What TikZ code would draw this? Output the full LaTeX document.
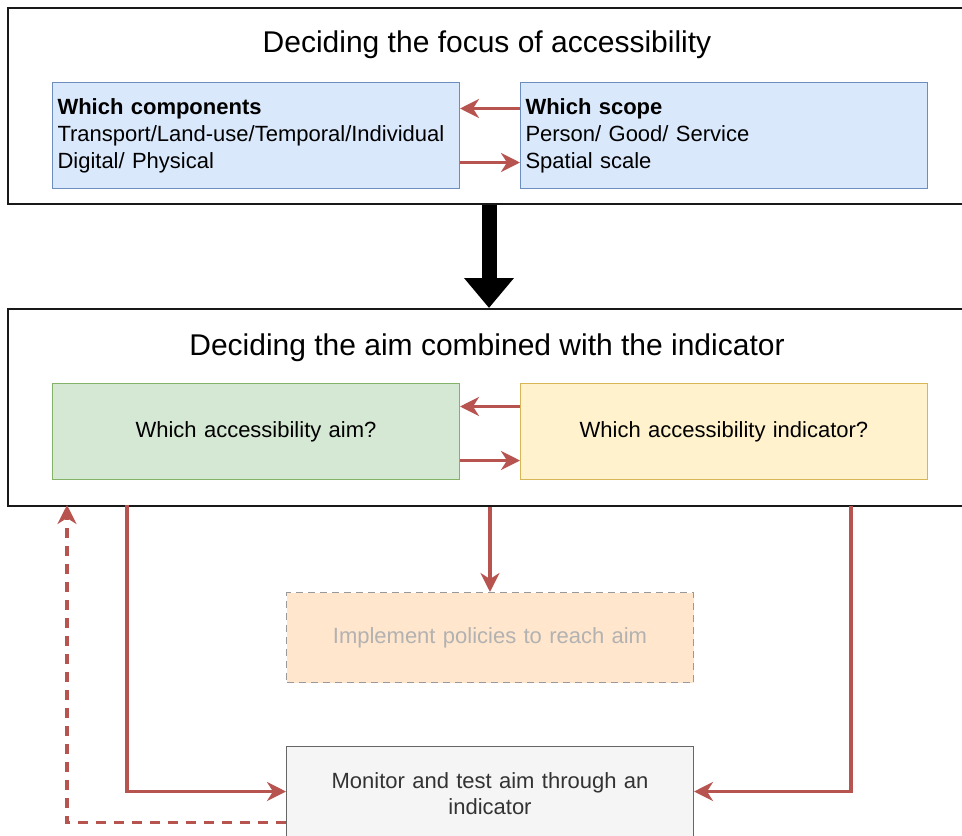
\documentclass[tikz,border=0pt]{standalone}
\usepackage{fontspec}
\setmainfont{Liberation Sans}
\usepackage{xcolor}
\usetikzlibrary{positioning,arrows.meta}

\definecolor{arrowred}{HTML}{B85450}
\definecolor{bluefill}{HTML}{DAE8FC}
\definecolor{blueline}{HTML}{6C8EBF}
\definecolor{greenfill}{HTML}{D5E8D4}
\definecolor{greenline}{HTML}{82B366}
\definecolor{yellowfill}{HTML}{FFF2CC}
\definecolor{yellowline}{HTML}{D6B656}
\definecolor{orangefill}{HTML}{FFE6CC}
\definecolor{greyfill}{HTML}{F5F5F5}

\begin{document}
\begin{tikzpicture}[
  x=1pt, y=-1pt,
  node distance=60pt,
  frame/.style={rectangle, draw=black!90, line width=1.6pt, fill=white, minimum width=964pt, anchor=north west, inner sep=0pt},
  heading/.style={font=\fontsize{30}{36}\selectfont},
  box/.style={rectangle, draw, line width=1pt, text width=397pt, inner xsep=5pt, inner ysep=0pt, font=\fontsize{22}{27}\selectfont},
  flow/.style={-{Stealth[length=19pt,width=19pt,inset=6pt]}, draw=arrowred, line width=3.5pt},
  big/.style={-{Triangle[length=30pt,width=48pt]}, line width=15pt, draw=black}
]
\useasboundingbox (0,0) rectangle (962,836);

% Top: focus of accessibility
\node[frame, minimum height=196pt] (focus) at (7,7) {};
\node[heading] (focustitle) at (487,45) {Deciding the focus of accessibility};
\node[box, fill=bluefill, draw=blueline, align=left, minimum height=106pt, anchor=north west] (comp) at (52,82)
  {\textbf{Which components}\\Transport/Land-use/Temporal/Individual\\Digital/ Physical};
\node[box, fill=bluefill, draw=blueline, align=left, minimum height=106pt, right=of comp] (scope)
  {\textbf{Which scope}\\Person/ Good/ Service\\Spatial scale};

% Middle: aim and indicator
\node[frame, minimum height=197pt] (aimframe) at (7,308) {};
\node[heading] (aimtitle) at (487,348) {Deciding the aim combined with the indicator};
\node[box, fill=greenfill, draw=greenline, align=center, minimum height=96pt, anchor=north west] (aim) at (52,383)
  {Which accessibility aim?};
\node[box, fill=yellowfill, draw=yellowline, align=center, minimum height=96pt, right=of aim] (ind)
  {Which accessibility indicator?};

% Bottom: policies and monitoring
\node[box, fill=orangefill, draw=black!40, dashed, dash pattern=on 7pt off 5pt, text=black!30, align=center, minimum height=90pt, anchor=north west] (policy) at (286,592)
  {Implement policies to reach aim};
\node[box, fill=greyfill, draw=black!60, text=black!80, align=center, minimum height=94pt, anchor=north west, font=\fontsize{22}{26}\selectfont] (monitor) at (286,746)
  {Monitor and test aim through an\\indicator};

\coordinate (leftdrop) at (127,505);
\coordinate (rightdrop) at (851,506);
\coordinate (backup) at (67,505);

\draw[big] (focus.south -| 489,0) -- (aimframe.north -| 489,0);
\draw[flow] ([yshift=27pt]scope.west) -- ([yshift=27pt]comp.east);
\draw[flow] ([yshift=-27pt]comp.east) -- ([yshift=-27pt]scope.west);
\draw[flow] ([yshift=25pt]ind.west) -- ([yshift=25pt]aim.east);
\draw[flow] ([yshift=-29pt]aim.east) -- ([yshift=-29pt]ind.west);
\draw[flow] (aimframe.south -| policy) -- (policy.north);
\draw[flow] (leftdrop) |- ([yshift=2pt]monitor.west);
\draw[flow] (rightdrop) |- ([yshift=2pt]monitor.east);
\draw[flow, dashed, dash pattern=on 10pt off 8pt] ([yshift=-29pt]monitor.west) -| (backup);
\end{tikzpicture}
\end{document}
